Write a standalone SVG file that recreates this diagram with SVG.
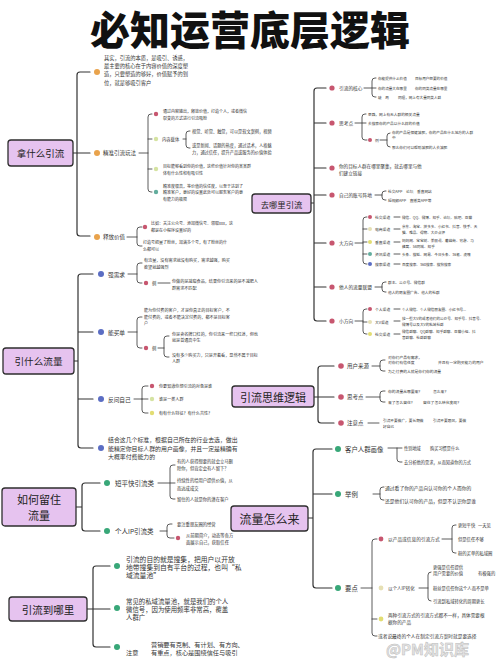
<svg xmlns="http://www.w3.org/2000/svg" width="500" height="667" viewBox="0 0 500 667">
<style>
text{font-family:"Noto Sans CJK SC","Noto Sans",sans-serif;dominant-baseline:central;fill:#333}
.ttl{font-size:40px;font-weight:900;fill:#111;text-anchor:middle}
.box{fill:#e6c3ef;stroke:#2e2e2e;stroke-width:1.3}
.bt{fill:#222;text-anchor:middle}
.c{fill:none;stroke:#333;stroke-width:1.2;stroke-linecap:round}
.c2{fill:none;stroke:#333;stroke-width:0.8;stroke-linecap:round}
.o{fill:#e9a34c}.r{fill:#c7566f}.g{fill:#d5e3a2}.tl{fill:#62ad9d}.b{fill:#5b6dc3}.gr{fill:#38a778}.y{fill:#e2dd72}.pl{fill:#e6e0b4}
.wm{font-size:15px;fill:#e4e4e4;stroke:#bdbdbd;stroke-width:0.5;font-weight:bold}
</style>
<rect width="500" height="667" fill="#fff"/>
<g id="title"><text class="ttl" x="250" y="28">必知运营底层逻辑</text></g>

<g id="connectors">
<path class="c" d="M90,72H80Q77,72 77,75V233Q77,236 80,236H90M73,153H90"/>
<path class="c2" d="M139,153H148M152,114H151Q148,114 148,117V189Q148,192 151,192H152M148,139H152M148,169H152"/>
<path class="c2" d="M183,139H186M190,131H189Q186,131 186,134V145Q186,148 189,148H190"/>
<path class="c2" d="M127,237H137M142,227H140Q137,227 137,230V243Q137,246 140,246H142"/>
<path class="c" d="M93,274H81Q78,274 78,277V445Q78,448 81,448H93M78,332H93M78,399H93M74,361H78"/>
<path class="c2" d="M128,274H137M142,263H140Q137,263 137,266V280Q137,283 140,283H142M158,283H170"/>
<path class="c2" d="M128,332H137M142,317H140Q137,317 137,320V345Q137,348 140,348H142M158,348H164M169,336H167Q164,336 164,339V354Q164,357 167,357H169"/>
<path class="c2" d="M134,399H142M148,386H145Q142,386 142,389V410Q142,413 145,413H148M142,399H148"/>
<path class="c" d="M100,483H85Q82,483 82,486V528Q82,531 85,531H100M76,507H82"/>
<path class="c2" d="M158,483H175M175,465H173Q170,465 170,468V496Q170,499 173,499H175"/>
<path class="c2" d="M160,531H167M172,524H170Q167,524 167,527V535Q167,538 170,538H174"/>
<path class="c" d="M110,566H96Q93,566 93,569V644Q93,647 96,647H110M87,609H110"/>
<path class="c" d="M326,88H317Q314,88 314,91V318Q314,321 317,321H326M314,123H326M314,168H326M314,195H326M314,243H326M314,287H326M311,203H314"/>
<path class="c2" d="M364,88H376M376,78H375Q372,78 372,81V94Q372,97 375,97H376"/>
<path class="c2" d="M355,123H366M366,114H365Q362,114 362,117V137Q362,140 365,140H367M380,140H387M390,133Q387,133 387,136V144Q387,147 390,147"/>
<path class="c2" d="M375,195H382M386,191H385Q382,191 382,194V197Q382,200 385,200H386"/>
<path class="c2" d="M355,243H363M367,217H366Q363,217 363,220V261Q363,264 366,264H367M363,229H367M363,242H367M363,254H367M394,217H400M394,229H400M394,242H400M394,254H400M394,264H400"/>
<path class="c2" d="M375,287H382M386,282H385Q382,282 382,285V289Q382,292 385,292H386"/>
<path class="c2" d="M355,321H363M367,309H366Q363,309 363,312V331Q363,334 366,334H367M363,322H367M394,309H400M394,321H400M394,334H400"/>
<path class="c" d="M334,366H321Q318,366 318,369V420Q318,423 321,423H334M314,397H334"/>
<path class="c2" d="M372,366H380M385,360H383Q380,360 380,363V368Q380,371 383,371H385"/>
<path class="c2" d="M366,397H380M385,391H383Q380,391 380,394V399Q380,402 383,402H385"/>
<path class="c2" d="M368,423H379"/>
<path class="c" d="M332,449H316Q313,449 313,452V585Q313,588 316,588H332M313,494H332M308,518H313"/>
<path class="c2" d="M388,448H402M397,448V459Q397,462 400,462H402"/>
<path class="c2" d="M373,494H380M384,487H383Q380,487 380,490V497Q380,500 383,500H384"/>
<path class="c2" d="M361,588H372M377,539H375Q372,539 372,542V633Q372,636 375,636H377M372,619H377"/>
<path class="c2" d="M442,539H452M456,525H455Q452,525 452,528V550Q452,553 455,553H456"/>
<path class="c2" d="M419,588H428M431,572Q428,572 428,575V598Q428,601 431,601"/>
</g>

<g id="n-nashenme"><rect class="box" x="8" y="140" width="65" height="26" rx="3"/><text class="bt" x="40.5" y="153" font-size="9.5">拿什么引流</text></g>
<g id="n-benzhi"><circle class="o" cx="97" cy="72" r="3"/>
<text x="104" y="58" font-size="5.25">其实，引流的本质，是吸引、诱惑，</text>
<text x="104" y="66" font-size="5.25">最主要的核心在于内容价值的深度塑</text>
<text x="104" y="74" font-size="5.25">造，只要塑造的够好，价值赋予的到</text>
<text x="104" y="83" font-size="5.25">位，就是够吸引客户</text></g>
<g id="n-jingzhun"><circle class="o" cx="97" cy="153" r="3"/><text x="103" y="153" font-size="5.5">精准引流玩法</text></g>
<g id="n-tongguo"><circle class="r" cx="156" cy="114" r="2.2"/>
<text x="163" y="111" font-size="4">通过内容输出，释放价值，打造个人，或者微信</text>
<text x="163" y="118" font-size="4">裂变的方式进行引流吸粉</text></g>
<g id="n-zaiti"><circle class="g" cx="156" cy="139" r="2.2"/><text x="162" y="139" font-size="4.3">内容载体</text>
<text x="192" y="131" font-size="4.2">视觉、听觉、触觉，可以是软文案例，视频</text>
<text x="192" y="145" font-size="4.2">或是新闻、话题的热度，通过话术，人格魅</text>
<text x="192" y="152" font-size="4.2">力，通过信任，提升产品或服务的价值体验</text></g>
<g id="n-mubiao"><circle class="g" cx="156" cy="169" r="2.2"/>
<text x="163" y="166" font-size="4">目标能够看到你的价值，这些价值针对你的某某群</text>
<text x="163" y="173" font-size="4">体有什么性和有吸引性</text></g>
<g id="n-jingzhundu"><circle class="tl" cx="156" cy="192" r="2.2"/>
<text x="163" y="186" font-size="4">精准度很高，等价值的信任度，以至于达到了</text>
<text x="163" y="192" font-size="4">精准客户，更好的设置此处可以服务客户的更</text>
<text x="163" y="199" font-size="4">有能力的极限</text></g>
<g id="n-shifang"><circle class="o" cx="97" cy="237" r="3"/><text x="103" y="237" font-size="5.5">释放价值</text>
<circle class="r" cx="145" cy="227" r="2.2"/>
<text x="151" y="223" font-size="4">比如：关注公众号、添加微信号、领取xxx，这</text>
<text x="151" y="230" font-size="4">都是在小程序设置好的</text>
<text x="143" y="242" font-size="4">打造号把量了粉丝，加满多个号，有了粉丝的什</text>
<text x="143" y="249" font-size="4">么都可以</text></g>

<g id="n-yinshenme"><rect class="box" x="3" y="348" width="71" height="26" rx="3"/><text class="bt" x="38.5" y="361" font-size="9.6">引什么流量</text></g>
<g id="n-qiangxuqiu"><circle class="b" cx="101" cy="274" r="3"/><text x="108" y="274" font-size="5.7">强需求</text>
<text x="144" y="260" font-size="4.1">有流量，没有需求就没有购买，需求越强，购买</text>
<text x="144" y="267" font-size="4.1">欲望就越强烈</text>
<circle class="r" cx="146" cy="283" r="2.2"/><text x="152" y="283" font-size="4.3">例</text>
<text x="172" y="281" font-size="4.1">你做的是减脂食品，结果你引流来的是不减肥人</text>
<text x="172" y="288" font-size="4.1">群需求不匹配</text></g>
<g id="n-nengmaidan"><circle class="b" cx="101" cy="332" r="3"/><text x="108" y="332" font-size="5.7">能买单</text>
<text x="144" y="310" font-size="4.1">能为你付费的客户，才是你真正的目标客户，不</text>
<text x="144" y="317" font-size="4.1">能付费的，或者不能决定付费的，都不是目标客</text>
<text x="144" y="323" font-size="4.1">户</text>
<circle class="r" cx="146" cy="348" r="2.2"/><text x="152" y="348" font-size="4.3">例</text>
<text x="172" y="334" font-size="4.1">你是卖名牌口红的，你引流来一些口红迷，但也</text>
<text x="172" y="340" font-size="4.1">就是普通高中生</text>
<text x="172" y="355" font-size="4.1">没有多少购买力，只是开着看，显然不属于目标</text>
<text x="172" y="361" font-size="4.1">人群</text></g>
<g id="n-fanwen"><circle class="b" cx="101" cy="399" r="3"/><text x="108" y="399" font-size="5.7">反问自己</text>
<circle class="r" cx="152" cy="386" r="2.2"/><text x="159" y="386" font-size="4.1">你要知道你想引流的对象是谁</text>
<circle class="g" cx="152" cy="399" r="2.2"/><text x="159" y="399" font-size="4.1">谁是一类人群</text>
<circle class="y" cx="152" cy="413" r="2.2"/><text x="159" y="413" font-size="4.1">有有什么特征？有什么共性？</text></g>
<g id="n-jiehe"><circle class="b" cx="101" cy="448" r="3"/>
<text x="108" y="439" font-size="5.9">结合这几个标准，根据自己所在的行业去选，做出</text>
<text x="108" y="448" font-size="5.9">能精定你目标人群的用户画像，并且一定是精确有</text>
<text x="108" y="456" font-size="5.9">大概率付费能力的</text></g>

<g id="n-liuzhu"><rect class="box" x="2" y="488" width="74" height="38" rx="3"/><text class="bt" x="39" y="499" font-size="11">如何留住</text><text class="bt" x="39" y="515" font-size="11">流量</text></g>
<g id="n-duanpingkuai"><circle class="gr" cx="107" cy="483" r="3"/><text x="115" y="483" font-size="6.5">短平快引流类</text>
<text x="177" y="461" font-size="4.3">有的人获得想要的就会立马删</text>
<text x="177" y="468" font-size="4.3">除你，但肯定会有人留下？</text>
<text x="177" y="480" font-size="4.3">持续性的给用户提供价值，从</text>
<text x="177" y="488" font-size="4.3">而达成成交</text>
<text x="177" y="499" font-size="4.3">留住的人就是你的潜在客户</text></g>
<g id="n-gerenip"><circle class="gr" cx="107" cy="531" r="3"/><text x="115" y="531" font-size="6.5">个人IP引流类</text>
<text x="177" y="524" font-size="4.3">要注重朋友圈的经营</text>
<circle class="r" cx="178" cy="538" r="2.2"/>
<text x="186" y="535" font-size="4.3">从前期简介，动态等各方</text>
<text x="186" y="542" font-size="4.3">面展示自己，获取信任</text></g>

<g id="n-yinliudao"><rect class="box" x="9" y="597" width="78" height="24" rx="3"/><text class="bt" x="48" y="609" font-size="10.5">引流到哪里</text></g>
<g id="n-mudi"><circle class="gr" cx="117" cy="566" r="3"/>
<text x="126" y="559" font-size="6.8">引流的目的就是搜集，把用户以开放</text>
<text x="126" y="567" font-size="6.8">地带搜集到自有平台的过程，也叫“私</text>
<text x="126" y="575" font-size="6.8">域流量池”</text></g>
<g id="n-changjian"><circle class="gr" cx="117" cy="608" r="3"/>
<text x="126" y="601" font-size="6.4">常见的私域流量池，就是我们的个人</text>
<text x="126" y="609" font-size="6.4">微信号，因为使用频率非常高，覆盖</text>
<text x="126" y="617" font-size="6.4">人群广</text></g>
<g id="n-zhuyi"><circle class="gr" cx="117" cy="647" r="3"/><text x="126" y="652" font-size="6.2">注意</text>
<text x="151" y="644" font-size="6.2">营销要有克制、有计划、有方向、</text>
<text x="151" y="652" font-size="6.2">有重点，核心是围绕信任与吸引</text></g>

<g id="n-qunali"><rect class="box" x="252" y="194" width="59" height="19" rx="3"/><text class="bt" x="281.5" y="203.5" font-size="8.3">去哪里引流</text></g>
<g id="n-hexin"><circle class="r" cx="332" cy="88" r="2.6"/><text x="339" y="88" font-size="4.7">引流的核心</text>
<text x="378" y="78" font-size="3.6">你能提供什么价值</text><text x="415" y="78" font-size="3.6">目标用户想要的价值</text>
<text x="378" y="88" font-size="3.6">你的流量大在哪里</text><text x="415" y="88" font-size="3.6">你的同类流量在哪里</text>
<text x="378" y="97" font-size="3.6">破　局</text><text x="398" y="97" font-size="3.6">同理，网上有大量同类人群</text></g>
<g id="n-sikao1"><circle class="r" cx="332" cy="123" r="2.6"/><text x="339" y="123" font-size="4.7">思考点</text>
<text x="368" y="114" font-size="3.7">思路，网上有无人群的相关流量</text>
<text x="368" y="123" font-size="3.7">去搜索你的产品以什么样的价值</text>
<circle class="r" cx="370" cy="140" r="2"/><text x="375" y="140" font-size="3.8">例</text>
<text x="392" y="132" font-size="3.7">你的产品是保健减肥，你的产品在什么地方的人群</text>
<text x="392" y="137" font-size="3.7">中</text>
<text x="392" y="147" font-size="3.7">那么你们可以帮助减肥的人去减肥</text></g>
<g id="n-juji"><circle class="r" cx="332" cy="168" r="2.6"/>
<text x="339" y="166" font-size="4.6">你的目标人群在哪里聚集，就去哪里与他</text>
<text x="339" y="173" font-size="4.6">们建立链接</text></g>
<g id="n-zhanghao"><circle class="r" cx="332" cy="195" r="2.6"/><text x="339" y="195" font-size="4.7">自己的账号阵地</text>
<text x="388" y="191" font-size="3.7">社交APP　论坛　垂直网站</text>
<text x="388" y="200" font-size="3.7">短视频APP　直播类APP等</text></g>
<g id="n-dafangxiang"><circle class="r" cx="332" cy="243" r="2.6"/><text x="339" y="243" font-size="4.7">大方向</text>
<circle class="r" cx="370" cy="217" r="2"/><text x="375" y="217" font-size="3.8">社交渠道</text><text x="402" y="217" font-size="3.6">微信、QQ、微博、知乎、论坛、贴吧、豆瓣</text>
<circle class="pl" cx="370" cy="229" r="2"/><text x="375" y="229" font-size="3.8">电商渠道</text><text x="402" y="226" font-size="3.6">京东、淘宝、拼多多、小红书、抖音、快手、天</text><text x="402" y="232" font-size="3.6">猫、唯品、得物、大众点评</text>
<circle class="y" cx="370" cy="242" r="2"/><text x="375" y="242" font-size="3.8">垂直渠道</text><text x="402" y="240" font-size="3.6">妈妈网、宝宝树、美丽说、蘑菇街、穷游、马</text><text x="402" y="246" font-size="3.6">蜂窝、58同城、知乎</text>
<circle class="tl" cx="370" cy="254" r="2"/><text x="375" y="254" font-size="3.8">资讯渠道</text><text x="402" y="254" font-size="3.6">头条、搜狐、网易、今日头条、36氪、虎嗅</text>
<circle class="b" cx="370" cy="264" r="2"/><text x="375" y="264" font-size="3.8">搜索渠道</text><text x="402" y="264" font-size="3.6">百度搜索、360搜索、搜狗搜索</text></g>
<g id="n-lianmeng"><circle class="r" cx="332" cy="287" r="2.6"/><text x="339" y="287" font-size="4.7">他人的流量联盟</text>
<text x="388" y="282" font-size="3.7">群主、公众号、微信群</text>
<text x="388" y="292" font-size="3.7">他人的朋友圈广告、他人的社群</text></g>
<g id="n-xiaofangxiang"><circle class="r" cx="332" cy="321" r="2.6"/><text x="339" y="321" font-size="4.7">小方向</text>
<circle class="r" cx="370" cy="309" r="2"/><text x="375" y="309" font-size="3.8">个人渠道</text><text x="402" y="309" font-size="3.6">个人微信、个人微信朋友圈、小红书号...</text>
<circle class="pl" cx="370" cy="322" r="2"/><text x="375" y="322" font-size="3.8">大V渠道</text><text x="402" y="318" font-size="3.6">找一些大V的或者他们的公众号、知乎号、抖音号、</text><text x="402" y="324" font-size="3.6">微博号以及大V的私域社群</text>
<circle class="y" cx="370" cy="334" r="2"/><text x="375" y="334" font-size="3.8">社交渠道</text><text x="402" y="331" font-size="3.6">微信群聊、QQ群聊、知乎群聊、豆瓣小组、抖</text><text x="402" y="337" font-size="3.6">音群聊、社群群聊</text></g>

<g id="n-siwei"><rect class="box" x="232" y="386" width="82" height="21" rx="3"/><text class="bt" x="273" y="396.5" font-size="11">引流思维逻辑</text></g>
<g id="n-laiyuan"><circle class="r" cx="341" cy="366" r="2.8"/><text x="347" y="366" font-size="5.5">用户来源</text>
<text x="388" y="357" font-size="3.8">对你们产品有需求，</text>
<text x="388" y="362" font-size="3.8">对你们有信任度</text><text x="438" y="362" font-size="3.8">并且有一定购买能力的用户</text>
<text x="388" y="371" font-size="3.8">为之付费的人就是你们你的流量</text></g>
<g id="n-sikao2"><circle class="r" cx="341" cy="397" r="2.8"/><text x="347" y="397" font-size="5.5">思考点</text>
<text x="388" y="391" font-size="3.8">你的流量从哪里来？</text><text x="433" y="391" font-size="3.8">怎么来？</text>
<text x="388" y="402" font-size="3.8">来了怎么留住？</text><text x="423" y="402" font-size="3.8">留住了怎么转化变现？</text></g>
<g id="n-zhuyidian"><circle class="r" cx="341" cy="423" r="2.8"/><text x="347" y="423" font-size="5.5">注意点</text>
<text x="383" y="420" font-size="3.7">引流不要做广，要长期做</text><text x="433" y="420" font-size="3.7">引流不要跟风，要做</text>
<text x="383" y="426" font-size="3.7">好自己</text></g>

<g id="n-zenmelai"><rect class="box" x="231" y="506" width="77" height="25" rx="3"/><text class="bt" x="269.5" y="518.5" font-size="12">流量怎么来</text></g>
<g id="n-huaxiang"><circle class="gr" cx="338" cy="449" r="3"/><text x="345" y="449" font-size="6.4">客户人群画像</text>
<text x="404" y="448" font-size="4.2">性别地域</text><text x="430" y="448" font-size="4.2">购买习惯是什么</text>
<text x="404" y="462" font-size="4.2">去分析他的需求，从而知道你的方式</text></g>
<g id="n-juli"><circle class="gr" cx="338" cy="494" r="3"/><text x="345" y="494" font-size="6.4">举例</text>
<text x="385" y="487" font-size="4.8">通过看了你的产品向认可你的个人而你的</text>
<text x="385" y="500" font-size="4.8">还是他们认可你的产品，但是不认识你是谁</text></g>
<g id="n-yaodian"><circle class="gr" cx="338" cy="588" r="3"/><text x="345" y="588" font-size="6.4">要点</text></g>
<g id="n-chanpin"><circle class="r" cx="381" cy="539" r="2.4"/><text x="388" y="539" font-size="4.7">以产品或信息的引流方式</text>
<text x="458" y="525" font-size="4.3">更短平快</text><text x="478" y="525" font-size="4.3">一天见</text>
<text x="458" y="539" font-size="4.3">但是信任不够</text>
<text x="458" y="553" font-size="4.3">粉的买单的私域圈</text></g>
<g id="n-geren"><circle class="pl" cx="381" cy="588" r="2.4"/><text x="388" y="588" font-size="4.5">以个人IP转化</text>
<text x="433" y="567" font-size="4.3">更强是信任提供</text>
<text x="433" y="573" font-size="4.3">用户需要的价值</text><text x="478" y="573" font-size="4.3">有极强的</text>
<text x="433" y="588" font-size="4.3">粉丝是信任你这个人而不是单</text>
<text x="433" y="601" font-size="4.3">引流到私域转化的周期更长</text></g>
<g id="n-liangzhong"><circle class="y" cx="381" cy="619" r="2.4"/>
<text x="388" y="615" font-size="4.6">两种引流方式的引流方式都不一样，具体需要根</text>
<text x="388" y="622" font-size="4.6">据你的产品</text></g>
<g id="n-huozhe"><text x="378" y="636" font-size="4.7">或者说最终的个人在制定引流方案时就是要选择</text></g>

<g id="watermark"><text class="wm" x="386" y="648">@PM知识库</text></g>
</svg>
